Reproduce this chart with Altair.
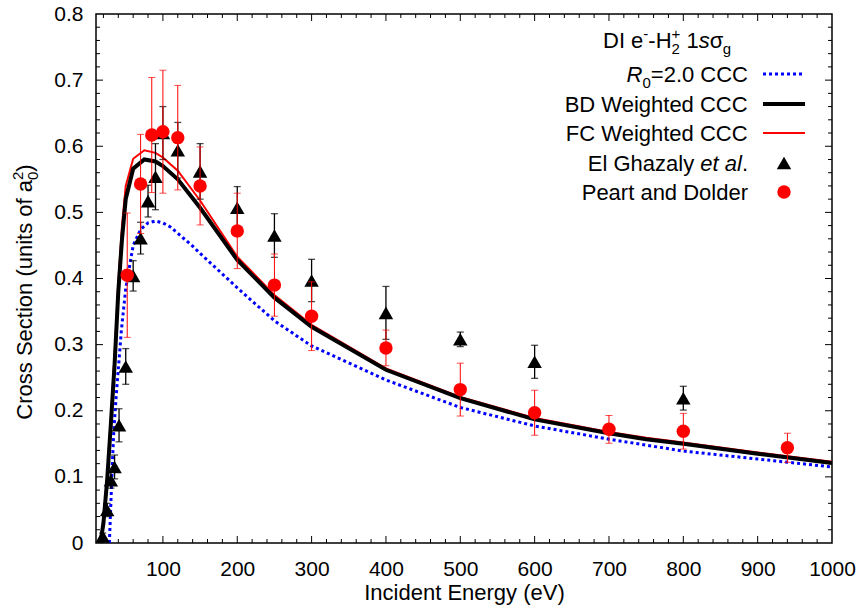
import altair as alt
import pandas as pd

# ---------------- data ----------------
r0_E = [28, 30, 32, 34, 37, 44, 50, 60, 70, 80, 90, 100, 110, 140, 150, 200, 250, 300, 400, 500, 600, 700, 800, 900, 1000]
r0_cs = [0.0, 0.06, 0.12, 0.17, 0.22, 0.32, 0.385, 0.45, 0.474, 0.484, 0.487, 0.484, 0.478, 0.449, 0.438, 0.386, 0.336, 0.298, 0.2465, 0.205, 0.177, 0.157, 0.139, 0.127, 0.115]

w_E = [16, 20, 25, 30, 35, 40, 45, 50, 60, 75, 90, 100, 120, 150, 200, 250, 300, 400, 500, 600, 700, 750, 800, 900, 1000]
bd_cs = [0.0, 0.03, 0.095, 0.18, 0.27, 0.38, 0.46, 0.52, 0.566, 0.580, 0.577, 0.570, 0.550, 0.507, 0.428, 0.371, 0.327, 0.262, 0.219, 0.187, 0.166, 0.157, 0.150, 0.135, 0.121]
fc_cs = [0.0, 0.035, 0.10, 0.19, 0.285, 0.395, 0.48, 0.54, 0.581, 0.594, 0.590, 0.583, 0.563, 0.518, 0.433, 0.375, 0.330, 0.264, 0.221, 0.189, 0.168, 0.159, 0.152, 0.137, 0.123]

eg_E = [19, 25, 30, 35, 41, 50, 60, 70, 80, 90, 100, 120, 150, 200, 250, 300, 400, 500, 600, 800]
eg_cs = [0.010, 0.050, 0.095, 0.115, 0.178, 0.267, 0.404, 0.461, 0.517, 0.554, 0.620, 0.594, 0.562, 0.507, 0.465, 0.397, 0.348, 0.308, 0.274, 0.219]
eg_err = [0.005, 0.010, 0.012, 0.018, 0.025, 0.027, 0.023, 0.024, 0.024, 0.050, 0.040, 0.042, 0.042, 0.032, 0.033, 0.032, 0.040, 0.011, 0.025, 0.018]

pdol_E = [52, 70, 85, 100, 120, 150, 200, 250, 300, 400, 500, 600, 700, 800, 940]
pdol_cs = [0.405, 0.543, 0.617, 0.622, 0.613, 0.540, 0.472, 0.390, 0.343, 0.295, 0.232, 0.197, 0.172, 0.169, 0.144]
pdol_err = [0.094, 0.075, 0.087, 0.093, 0.079, 0.059, 0.057, 0.047, 0.052, 0.027, 0.040, 0.034, 0.021, 0.027, 0.022]

x_major = [100, 200, 300, 400, 500, 600, 700, 800, 900]
x_minor = [v for v in range(20, 1000, 20) if v % 100 != 0]
y_major = [0.1, 0.2, 0.3, 0.4, 0.5, 0.6, 0.7]
y_minor = [round(0.02 * k, 2) for k in range(1, 40) if k % 5 != 0]
x_labels = [100, 200, 300, 400, 500, 600, 700, 800, 900, 1000]
y_labels = [0, 0.1, 0.2, 0.3, 0.4, 0.5, 0.6, 0.7, 0.8]

# ---------------- layout ----------------
W, H = 736, 529
PADL, PADT = 96, 14
FONT = "Liberation Sans"
FS = 22
SMALL = 15
YT = 22          # y-axis title font size
YT_SMALL = 15

xs = alt.Scale(domain=[10, 1000], nice=False, zero=False)
ys = alt.Scale(domain=[0, 0.8], nice=False, zero=False)

xaxis = alt.Axis(values=x_labels, format="d", ticks=False, tickSize=0, domain=False, grid=False,
                 labelFont=FONT, labelFontSize=21, labelColor="black", labelPadding=15, labelFlush=False,
                 title="Incident Energy (eV)", titleFont=FONT, titleFontSize=FS,
                 titleFontWeight="normal", titleColor="black", titlePadding=3)
yaxis = alt.Axis(values=y_labels, ticks=False, tickSize=0, domain=False, grid=False,
                 labelFont=FONT, labelFontSize=21, labelColor="black", labelPadding=13, labelFlush=False,
                 labelExpr="datum.value == 0 ? '0' : format(datum.value, '.1f')",
                 title=None)


def X(field="E"):
    return alt.X(f"{field}:Q", scale=xs, axis=xaxis)


def Y(field="y"):
    return alt.Y(f"{field}:Q", scale=ys, axis=yaxis)


layers = []


# inward ticks on all four sides
def tick_layers(vals, length):
    d = pd.DataFrame({"E": vals})
    return [
        alt.Chart(d).mark_rule(color="black", strokeWidth=1).encode(x=X(), y=alt.value(H), y2=alt.value(H - length)),
        alt.Chart(d).mark_rule(color="black", strokeWidth=1).encode(x=X(), y=alt.value(0), y2=alt.value(length)),
    ]


def ytick_layers(vals, length):
    d = pd.DataFrame({"y": vals})
    return [
        alt.Chart(d).mark_rule(color="black", strokeWidth=1).encode(y=Y(), x=alt.value(0), x2=alt.value(length)),
        alt.Chart(d).mark_rule(color="black", strokeWidth=1).encode(y=Y(), x=alt.value(W - length), x2=alt.value(W)),
    ]


layers += tick_layers(x_major, 7) + tick_layers(x_minor, 4)
layers += ytick_layers(y_major, 7) + ytick_layers(y_minor, 4)

# curves
r0_df = pd.DataFrame({"E": r0_E, "y": r0_cs})
bd_df = pd.DataFrame({"E": w_E, "y": bd_cs})
fc_df = pd.DataFrame({"E": w_E, "y": fc_cs})

layers.append(alt.Chart(r0_df).mark_line(color="#0000ff", strokeWidth=3, strokeDash=[3, 3]).encode(x=X(), y=Y()))
layers.append(alt.Chart(fc_df).mark_line(color="#ff0000", strokeWidth=2).encode(x=X(), y=Y()))
layers.append(alt.Chart(bd_df).mark_line(color="black", strokeWidth=4).encode(x=X(), y=Y()))

# El Ghazaly et al. with error bars
eg_df = pd.DataFrame({"E": eg_E, "y": eg_cs})
eg_df["lo"] = [c - e for c, e in zip(eg_cs, eg_err)]
eg_df["hi"] = [c + e for c, e in zip(eg_cs, eg_err)]
layers.append(alt.Chart(eg_df).mark_rule(color="black", strokeWidth=1.3).encode(x=X(), y=Y("lo"), y2="hi:Q"))
layers.append(alt.Chart(eg_df).mark_tick(orient="horizontal", color="black", size=7, thickness=1.3).encode(x=X(), y=Y("lo")))
layers.append(alt.Chart(eg_df).mark_tick(orient="horizontal", color="black", size=7, thickness=1.3).encode(x=X(), y=Y("hi")))
layers.append(alt.Chart(eg_df).mark_point(shape="triangle-up", filled=True, color="black", size=210, opacity=1).encode(x=X(), y=Y()))

# Peart and Dolder with error bars
pd_df = pd.DataFrame({"E": pdol_E, "y": pdol_cs})
pd_df["lo"] = [c - e for c, e in zip(pdol_cs, pdol_err)]
pd_df["hi"] = [c + e for c, e in zip(pdol_cs, pdol_err)]
layers.append(alt.Chart(pd_df).mark_rule(color="#ff0000", strokeWidth=1).encode(x=X(), y=Y("lo"), y2="hi:Q"))
layers.append(alt.Chart(pd_df).mark_tick(orient="horizontal", color="#ff0000", size=7, thickness=1).encode(x=X(), y=Y("lo")))
layers.append(alt.Chart(pd_df).mark_tick(orient="horizontal", color="#ff0000", size=7, thickness=1).encode(x=X(), y=Y("hi")))
layers.append(alt.Chart(pd_df).mark_circle(color="#ff0000", size=180, opacity=1).encode(x=X(), y=Y()))

# ---------------- text helpers ----------------
CW = {' ': 278, '(': 333, ')': 333, '+': 584, '-': 333, '.': 278, '=': 584,
      'A': 667, 'B': 667, 'C': 722, 'D': 722, 'E': 667, 'F': 611, 'G': 778, 'H': 722, 'I': 278,
      'P': 667, 'R': 722, 'S': 667, 'W': 944,
      'a': 556, 'c': 500, 'd': 556, 'e': 556, 'f': 278, 'g': 556, 'h': 556, 'i': 222, 'l': 222,
      'n': 556, 'o': 556, 'r': 333, 's': 500, 't': 278, 'u': 556, 'y': 500, 'z': 500, 'σ': 590}


def tw(s, size):
    return sum(CW.get(c, 556) for c in s) * size / 1000.0


def total_width(pieces):
    return sum(tw(p[0], p[1]) for p in pieces if p[4])


def text_pieces(pieces, x0, base, base_size, angle=0):
    out = []
    pos = 0.0
    for txt, size, italic, shift, adv in pieces:
        off = {"n": 0, "sub": 0.25 * base_size, "sup": -0.42 * base_size}[shift]
        core = txt.strip()
        lead = tw(txt[: len(txt) - len(txt.lstrip())], size)
        p = pos + lead
        if angle == 0:
            px, py = x0 + p, base + off
        else:
            px, py = x0 + off, base - p
        out.append(
            alt.Chart(pd.DataFrame({"t": [core]}))
            .mark_text(align="left", baseline="alphabetic", font=FONT, fontSize=size,
                       fontStyle="italic" if italic else "normal", angle=angle, color="black")
            .encode(text="t:N", x=alt.value(px - PADL), y=alt.value(py - PADT))
        )
        if adv:
            pos += tw(txt, size)
    return out


# y-axis title (rotated), with a_0^2
ytitle = [("Cross Section (units of a", YT, False, "n", True),
          ("0", YT_SMALL, False, "sub", False),
          ("2", YT_SMALL, False, "sup", True),
          (")", YT, False, "n", True)]
tot = total_width(ytitle)
layers += text_pieces(ytitle, 32, 292 + tot / 2, YT, angle=270)

# legend
RIGHT = 748
BASE = 8
title_row = [("DI e", FS, False, "n", True), ("-", SMALL, False, "sup", True),
             ("-H", FS, False, "n", True), ("2", SMALL, False, "sub", False),
             ("+", SMALL, False, "sup", True), (" 1", FS, False, "n", True),
             ("s", FS, True, "n", True), ("σ", FS, False, "n", True), ("g", SMALL, False, "sub", True)]
layers += text_pieces(title_row, 603, 40 + BASE, FS)

rows = [
    ([("R", FS, True, "n", True), ("0", SMALL, False, "sub", True), ("=2.0 CCC", FS, False, "n", True)], 74),
    ([("BD Weighted CCC", FS, False, "n", True)], 104),
    ([("FC Weighted CCC", FS, False, "n", True)], 133),
    ([("El Ghazaly ", FS, False, "n", True), ("et al", FS, True, "n", True), (".", FS, False, "n", True)], 163),
    ([("Peart and Dolder", FS, False, "n", True)], 192),
]
for pcs, yc in rows:
    layers += text_pieces(pcs, RIGHT - total_width(pcs), yc + BASE, FS)

one = pd.DataFrame({"k": [0]})
LX1, LX2, LXC = 763 - PADL, 805 - PADL, 784 - PADL
layers.append(alt.Chart(one).mark_rule(color="#0000ff", strokeWidth=3, strokeDash=[3, 3]).encode(
    x=alt.value(LX1), x2=alt.value(LX2), y=alt.value(74 - PADT)))
layers.append(alt.Chart(one).mark_rule(color="black", strokeWidth=4).encode(
    x=alt.value(LX1), x2=alt.value(LX2), y=alt.value(104 - PADT)))
layers.append(alt.Chart(one).mark_rule(color="#ff0000", strokeWidth=2).encode(
    x=alt.value(LX1), x2=alt.value(LX2), y=alt.value(133 - PADT)))
layers.append(alt.Chart(one).mark_point(shape="triangle-up", filled=True, color="black", size=210, opacity=1).encode(
    x=alt.value(LXC), y=alt.value(163 - PADT)))
layers.append(alt.Chart(one).mark_circle(color="#ff0000", size=180, opacity=1).encode(
    x=alt.value(LXC), y=alt.value(192 - PADT)))

chart = (
    alt.layer(*layers)
    .properties(width=W, height=H,
                padding={"left": PADL, "top": PADT, "right": 861 - PADL - W, "bottom": 607 - PADT - H},
                autosize=alt.AutoSizeParams(type="none"), background="white")
    .configure_view(stroke="black", strokeWidth=1.5)
)

chart.save("out.html", embed_options={"renderer": "svg", "actions": False})
